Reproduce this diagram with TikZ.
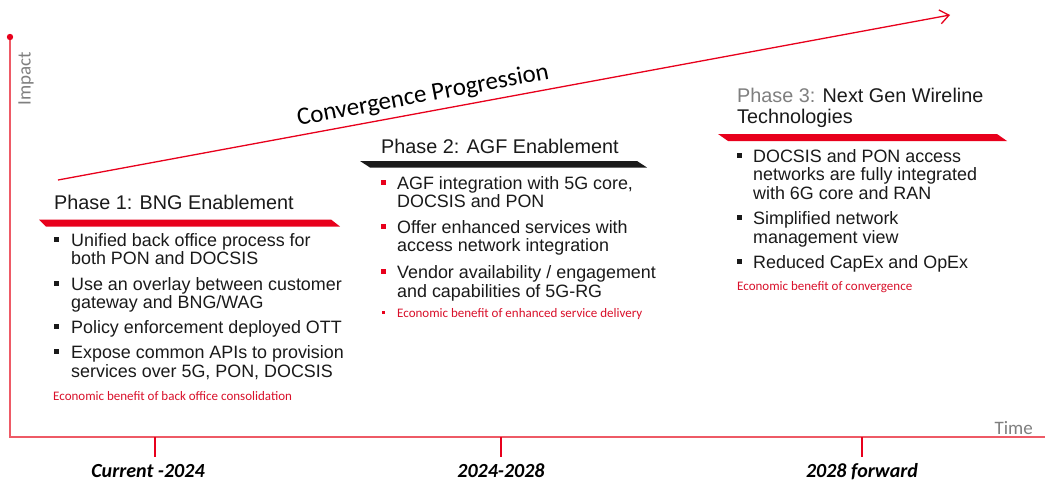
\documentclass[tikz,border=0pt]{standalone}
\usepackage{fontspec}
\setmainfont{Liberation Sans}
\newfontfamily\carl{Carlito}
\usetikzlibrary{arrows.meta}
\definecolor{axisred}{HTML}{EE5A66}
\definecolor{brred}{HTML}{E8001C}
\definecolor{txtred}{HTML}{D9102A}
\definecolor{txt}{HTML}{1A1A1A}
\definecolor{gr}{HTML}{7F7F7F}
\tikzset{
 body/.style={anchor=base west, inner sep=0pt, text=txt, font=\fontsize{17.9}{20}\selectfont},
 ttl/.style={anchor=base west, inner sep=0pt, text=txt, font=\fontsize{19.8}{22}\selectfont},
 econ/.style={anchor=base west, inner sep=0pt, text=txtred, font=\carl\fontsize{13}{15}\selectfont},
 period/.style={anchor=base, inner sep=0pt, text=black, font=\carl\bfseries\itshape\fontsize{20}{22}\selectfont},
 axlbl/.style={inner sep=0pt, text=gr, font=\carl\fontsize{19}{22}\selectfont},
 tickline/.style={draw=brred, line width=1.3pt},
 axisline/.style={draw=axisred, line width=1.4pt},
 bk/.style={fill=txt},
 rb/.style={fill=brred},
}
\begin{document}
\begin{tikzpicture}[x=1pt,y=-1pt]
\useasboundingbox[fill=white] (0,0) rectangle (1045,480);
% axes
\coordinate (top) at (10,37);
\coordinate (orig) at (10,437);
\coordinate (right) at (1045,437);
\draw[axisline] (top) -- (orig) -- (right);
\fill[brred] (top) circle (3.2);
\node[axlbl, rotate=90] (impact) at (26,79) {Impact};
\node[axlbl, anchor=base east] (time) at (1033,434) {Time};
% ticks
\coordinate (t1a) at (155,437); \coordinate (t1b) at (155,457);
\coordinate (t2a) at (501,437); \coordinate (t2b) at (501,457);
\coordinate (t3a) at (862,437); \coordinate (t3b) at (862,457);
\draw[tickline] (t1a) -- (t1b);
\draw[tickline] (t2a) -- (t2b);
\draw[tickline] (t3a) -- (t3b);
\node[period] (per1) at (148,477) {Current -2024};
\node[period] (per2) at (501,477) {2024-2028};
\node[period] (per3) at (862,477) {2028 forward};
% progression arrow
\coordinate (arrS) at (58,180);
\coordinate (arrE) at (950,15);
\draw[brred, line width=1.3pt, -{Straight Barb[length=9pt,width=14pt,line width=1.3pt]}] (arrS) -- (arrE);
\node[inner sep=0pt, rotate=10.6, font=\carl\fontsize{25}{28}\selectfont] (conv) at (423,96) {Convergence Progression};
% Phase 1
\node[ttl] (p1t) at (54,209) {Phase 1: BNG Enablement};
\fill[brred] (39,219.5) -- (331,219.5) -- (340,226.5) -- (46,226.5) -- cycle;
\node[body] (p1a) at (71,246) {Unified back office process for};
\node[body] (p1b) at (71,264) {both PON and DOCSIS};
\node[body] (p1c) at (71,290) {Use an overlay between customer};
\node[body] (p1d) at (71,308) {gateway and BNG/WAG};
\node[body] (p1e) at (71,333) {Policy enforcement deployed OTT};
\node[body] (p1f) at (71,358) {Expose common APIs to provision};
\node[body] (p1g) at (71,377) {services over 5G, PON, DOCSIS};
\node[econ] (p1h) at (53,400) {Economic benefit of back office consolidation};
\foreach \y in {246,290,333,358} \fill[bk] (54,\y-9) rectangle (58.5,\y-4.5);
% Phase 2
\node[ttl] (p2t) at (381,153) {Phase 2: AGF Enablement};
\fill[txt] (360,161) -- (637,161) -- (647,167.5) -- (370,167.5) -- cycle;
\node[body] (p2a) at (397,189) {AGF integration with 5G core,};
\node[body] (p2b) at (397,207) {DOCSIS and PON};
\node[body] (p2c) at (397,233) {Offer enhanced services with};
\node[body] (p2d) at (397,251) {access network integration};
\node[body] (p2e) at (397,278) {Vendor availability / engagement};
\node[body] (p2f) at (397,297) {and capabilities of 5G-RG};
\node[econ] (p2g) at (397,317) {Economic benefit of enhanced service delivery};
\foreach \y in {189,233,278} \fill[rb] (381,\y-9) rectangle (385.5,\y-4.5);
\fill[rb] (381.5,317-6.5) rectangle (384.5,317-3.5);
% Phase 3
\node[ttl] (p3t) at (737,102) {\textcolor{gr}{Phase 3:} Next Gen Wireline};
\node[ttl] (p3u) at (737,123) {Technologies};
\fill[brred] (718,134) -- (997,134) -- (1007,141) -- (728,141) -- cycle;
\node[body] (p3a) at (753,162) {DOCSIS and PON access};
\node[body] (p3b) at (753,180) {networks are fully integrated};
\node[body] (p3c) at (753,199) {with 6G core and RAN};
\node[body] (p3d) at (753,224) {Simplified network};
\node[body] (p3e) at (753,243) {management view};
\node[body] (p3f) at (753,268) {Reduced CapEx and OpEx};
\node[econ] (p3g) at (737,290) {Economic benefit of convergence};
\foreach \y in {162,224,268} \fill[bk] (737,\y-9) rectangle (741.5,\y-4.5);
\end{tikzpicture}
\end{document}
